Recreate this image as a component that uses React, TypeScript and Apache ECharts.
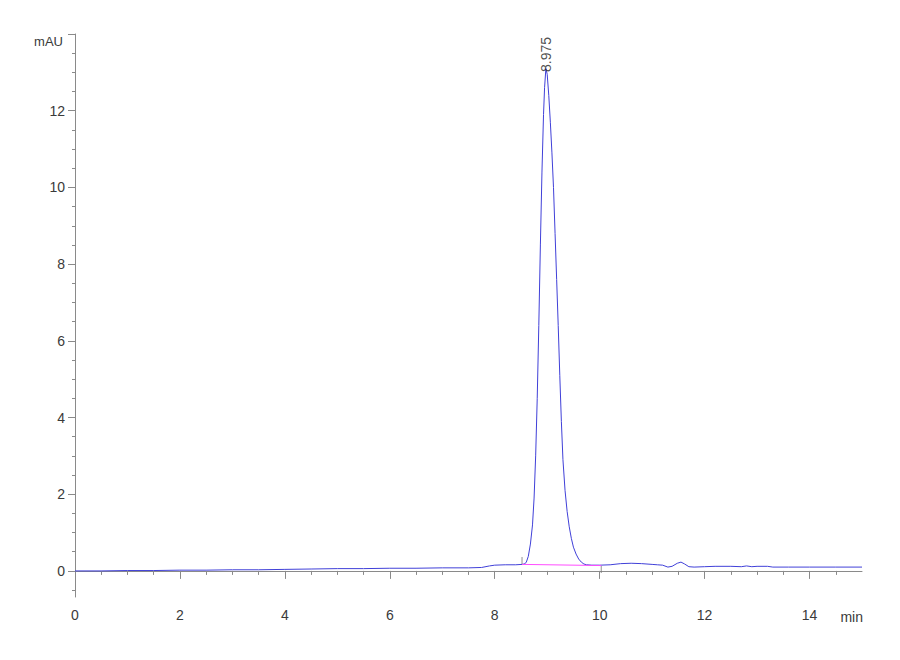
import { useEffect, useRef } from "react";
import * as echarts from "echarts";

// retention time (min) and detector signal (mAU)
const timeMin = [
  0, 0.5, 1.0, 1.5, 2.0, 2.5, 3.0, 3.5, 4.0, 4.5, 5.0, 5.5, 6.0, 6.5, 7.0, 7.5, 7.75, 7.9, 8.0, 8.2, 8.4,
  8.52, 8.56, 8.6, 8.64, 8.68, 8.72, 8.75, 8.78, 8.81, 8.84, 8.87, 8.9, 8.93, 8.95, 8.975,
  9.0, 9.03, 9.06, 9.09, 9.12, 9.15, 9.18, 9.21, 9.24, 9.27, 9.3, 9.34, 9.38, 9.42, 9.46, 9.5,
  9.55, 9.6, 9.65, 9.7, 9.75, 9.85, 10.0, 10.2, 10.4, 10.6, 10.8, 11.0, 11.1, 11.2, 11.3, 11.38,
  11.48, 11.55, 11.62, 11.7, 11.8, 12.0, 12.2, 12.5, 12.7, 12.8, 12.9, 13.0, 13.2, 13.3, 13.6,
  14.0, 14.5, 15.0,
];
const signalMau = [
  0.0, 0.0, 0.01, 0.01, 0.02, 0.02, 0.03, 0.03, 0.04, 0.05, 0.06, 0.06, 0.07, 0.07, 0.08, 0.08, 0.09, 0.13, 0.15, 0.16, 0.16,
  0.17, 0.18, 0.22, 0.38, 0.7, 1.2, 1.9, 3.0, 4.5, 6.4, 8.5, 10.4, 11.9, 12.6, 13.1,
  12.95, 12.4, 11.7, 10.9, 10.0, 8.8, 7.6, 6.4, 5.1, 3.9, 2.9, 2.1, 1.55, 1.15, 0.85, 0.62,
  0.44, 0.31, 0.23, 0.18, 0.16, 0.15, 0.15, 0.16, 0.19, 0.2, 0.19, 0.17, 0.16, 0.15, 0.1, 0.12,
  0.2, 0.23, 0.18, 0.11, 0.1, 0.11, 0.12, 0.12, 0.11, 0.13, 0.11, 0.12, 0.12, 0.1, 0.1,
  0.1, 0.1, 0.1,
];

// integration baseline under the peak
const baselineStart = [8.52, 0.17];
const baselineEnd = [10.03, 0.14];

const peakTime = 8.975;
const peakHeight = 13.1;

const xTicks = [0, 2, 4, 6, 8, 10, 12, 14];
const xMinorTicks = [0.5, 1, 1.5, 2.5, 3, 3.5, 4.5, 5, 5.5, 6.5, 7, 7.5, 8.5, 9, 9.5, 10.5, 11, 11.5, 12.5, 13, 13.5, 14.5];
const yTicks = [0, 2, 4, 6, 8, 10, 12, 14];
const yLabels = [0, 2, 4, 6, 8, 10, 12];
const yMinorTicks = [-0.5, 0.5, 1, 1.5, 2.5, 3, 3.5, 4.5, 5, 5.5, 6.5, 7, 7.5, 8.5, 9, 9.5, 10.5, 11, 11.5, 12.5, 13, 13.5];

const FONT = "'Liberation Sans', Arial, sans-serif";
const AXIS = "#8a8a8a";
const TEXT = "#3a3a3a";

const App = () => {
  const chartRef = useRef<HTMLDivElement>(null);

  useEffect(() => {
    document.body.style.margin = "0";
    const chart = echarts.init(chartRef.current!, null, { renderer: "svg" });

    const trace = timeMin.map((t, i) => [t, signalMau[i]]);

    const xBase = { type: "value", min: 0, max: 15, splitLine: { show: false }, position: "bottom" };
    const yBase = { type: "value", min: -0.68, max: 14, splitLine: { show: false }, position: "left" };

    chart.setOption({
      animation: false,
      backgroundColor: "#ffffff",
      grid: { left: 75, right: 38, top: 34, bottom: 63, containLabel: false },
      xAxis: [
        {
          ...xBase,
          axisLine: { show: true, lineStyle: { color: AXIS, width: 1 } },
          axisTick: { show: true, length: 8, customValues: xTicks, lineStyle: { color: AXIS } },
          axisLabel: { show: true, customValues: xTicks, margin: 11, color: TEXT, fontFamily: FONT, fontSize: 14 },
        },
        {
          ...xBase,
          axisLine: { show: false },
          axisTick: { show: true, length: 4, customValues: xMinorTicks, lineStyle: { color: AXIS } },
          axisLabel: { show: false },
        },
        {
          // carries only the unit name, set below the axis line
          ...xBase,
          offset: 27,
          name: "min",
          nameLocation: "end",
          nameGap: 1,
          nameMoveOverlap: false,
          nameTextStyle: { color: TEXT, fontFamily: FONT, fontSize: 14, align: "right", verticalAlign: "bottom" },
          axisLine: { show: false },
          axisTick: { show: false },
          axisLabel: { show: false },
        },
      ],
      yAxis: [
        {
          ...yBase,
          name: "mAU",
          nameLocation: "end",
          nameGap: 0,
          nameMoveOverlap: false,
          nameTextStyle: { color: TEXT, fontFamily: FONT, fontSize: 13, align: "right", verticalAlign: "top", padding: [1, 12, 0, 0] },
          axisLine: { show: true, lineStyle: { color: AXIS, width: 1 } },
          axisTick: { show: true, length: 7, customValues: yTicks, lineStyle: { color: AXIS } },
          axisLabel: { show: true, customValues: yLabels, margin: 10, color: TEXT, fontFamily: FONT, fontSize: 14 },
        },
        {
          ...yBase,
          axisLine: { show: false },
          axisTick: { show: true, length: 3, customValues: yMinorTicks, lineStyle: { color: AXIS } },
          axisLabel: { show: false },
        },
      ],
      series: [
        {
          type: "line",
          data: trace,
          showSymbol: false,
          smooth: false,
          lineStyle: { color: "#4040d8", width: 1 },
          z: 2,
        },
        {
          type: "line",
          data: [baselineStart, baselineEnd],
          showSymbol: false,
          lineStyle: { color: "#ff4dff", width: 1 },
          z: 3,
        },
        {
          type: "scatter",
          data: [
            { value: baselineStart, symbolOffset: [0, -4] },
            { value: baselineEnd, symbolOffset: [0, 4] },
          ],
          symbol: "rect",
          symbolSize: [1, 7],
          itemStyle: { color: "#777777" },
          z: 4,
        },
        {
          type: "scatter",
          data: [[peakTime, peakHeight]],
          symbolSize: 1,
          itemStyle: { color: "transparent" },
          label: {
            show: true,
            formatter: peakTime.toFixed(3),
            position: "top",
            distance: -4,
            rotate: 90,
            align: "left",
            verticalAlign: "middle",
            color: "#222222",
            fontFamily: FONT,
            fontSize: 14,
          },
          z: 5,
        },
      ],
    });

    return () => {
      chart.dispose();
    };
  }, []);

  return <div ref={chartRef} style={{ width: 900, height: 660 }} />;
};

export default App;
